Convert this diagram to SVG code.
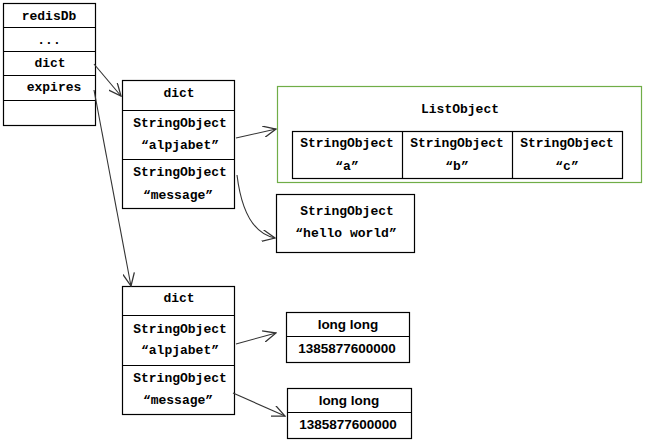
<svg xmlns="http://www.w3.org/2000/svg" width="655" height="444" viewBox="0 0 655 444">
<style>
.box{fill:#fff;stroke:#000;stroke-width:1.2}
.t{font-family:"Liberation Mono",monospace;font-weight:bold;font-size:13px;fill:#000;text-anchor:middle}
.s{font-family:"Liberation Sans",Arial,sans-serif;font-weight:bold;font-size:13.5px;fill:#000;text-anchor:middle}
.c{fill:none;stroke:#333;stroke-width:1.1}
</style>
<defs>
<marker id="ah" markerUnits="userSpaceOnUse" markerWidth="14" markerHeight="12" refX="11" refY="5" orient="auto" viewBox="0 0 12 10">
<path d="M0,0 L11,5 L0,10" fill="none" stroke="#333" stroke-width="1.1"/>
</marker>
</defs>
<rect width="655" height="444" fill="#fff"/>
<g id="redisDb">
<rect class="box" x="3.5" y="3.5" width="92" height="122"/>
<line class="box" x1="3.5" y1="27.5" x2="95.5" y2="27.5"/>
<line class="box" x1="3.5" y1="51.5" x2="95.5" y2="51.5"/>
<line class="box" x1="3.5" y1="75.5" x2="95.5" y2="75.5"/>
<line class="box" x1="3.5" y1="100.5" x2="95.5" y2="100.5"/>
<text class="t" x="49" y="20">redisDb</text>
<text class="t" x="49" y="44">...</text>
<text class="t" x="50" y="67">dict</text>
<text class="t" x="54" y="91">expires</text>
</g>
<g id="dict1">
<rect class="box" x="122.5" y="80.5" width="112" height="128"/>
<line class="box" x1="122.5" y1="110.5" x2="234.5" y2="110.5"/>
<line class="box" x1="122.5" y1="159.5" x2="234.5" y2="159.5"/>
<text class="t" x="179" y="97">dict</text>
<text class="t" x="180" y="127">StringObject</text>
<text class="t" x="180" y="149">“alpjabet”</text>
<text class="t" x="180" y="176">StringObject</text>
<text class="t" x="178" y="199">“message”</text>
</g>
<g id="listObject">
<rect x="277.5" y="86.5" width="364" height="96" fill="#fff" stroke="#70ad47" stroke-width="1.2"/>
<text class="t" x="460" y="113">ListObject</text>
<rect class="box" x="292.5" y="131.5" width="330" height="47"/>
<line class="box" x1="402.5" y1="131.5" x2="402.5" y2="178.5"/>
<line class="box" x1="512.5" y1="131.5" x2="512.5" y2="178.5"/>
<text class="t" x="347" y="147">StringObject</text>
<text class="t" x="347" y="170">“a”</text>
<text class="t" x="457" y="147">StringObject</text>
<text class="t" x="457" y="170">“b”</text>
<text class="t" x="567" y="147">StringObject</text>
<text class="t" x="567" y="170">“c”</text>
</g>
<g id="helloWorld">
<rect class="box" x="276.5" y="194.5" width="138" height="58"/>
<text class="t" x="347" y="215">StringObject</text>
<text class="t" x="346" y="237">“hello world”</text>
</g>
<g id="dict2">
<rect class="box" x="122.5" y="286.5" width="112" height="128"/>
<line class="box" x1="122.5" y1="315.5" x2="234.5" y2="315.5"/>
<line class="box" x1="122.5" y1="365.5" x2="234.5" y2="365.5"/>
<text class="t" x="179" y="302">dict</text>
<text class="t" x="180" y="333">StringObject</text>
<text class="t" x="180" y="354">“alpjabet”</text>
<text class="t" x="180" y="382">StringObject</text>
<text class="t" x="178" y="404">“message”</text>
</g>
<g id="longlong1">
<rect class="box" x="286.5" y="312.5" width="123" height="50"/>
<line class="box" x1="286.5" y1="336.5" x2="409.5" y2="336.5"/>
<text class="s" x="348" y="329">long long</text>
<text class="s" x="347" y="353">1385877600000</text>
</g>
<g id="longlong2">
<rect class="box" x="287.5" y="388.5" width="124" height="50"/>
<line class="box" x1="287.5" y1="412.5" x2="411.5" y2="412.5"/>
<text class="s" x="349" y="405">long long</text>
<text class="s" x="348" y="429">1385877600000</text>
</g>
<g id="connectors">
<line class="c" x1="94" y1="64" x2="121" y2="96" marker-end="url(#ah)"/>
<line class="c" x1="94" y1="90" x2="131" y2="286" marker-end="url(#ah)"/>
<line class="c" x1="236" y1="138" x2="276" y2="129" marker-end="url(#ah)"/>
<path class="c" d="M237,175 Q244,232 275,238" marker-end="url(#ah)"/>
<line class="c" x1="236" y1="344" x2="276" y2="333" marker-end="url(#ah)"/>
<line class="c" x1="233" y1="393" x2="285" y2="416" marker-end="url(#ah)"/>
</g>
</svg>
